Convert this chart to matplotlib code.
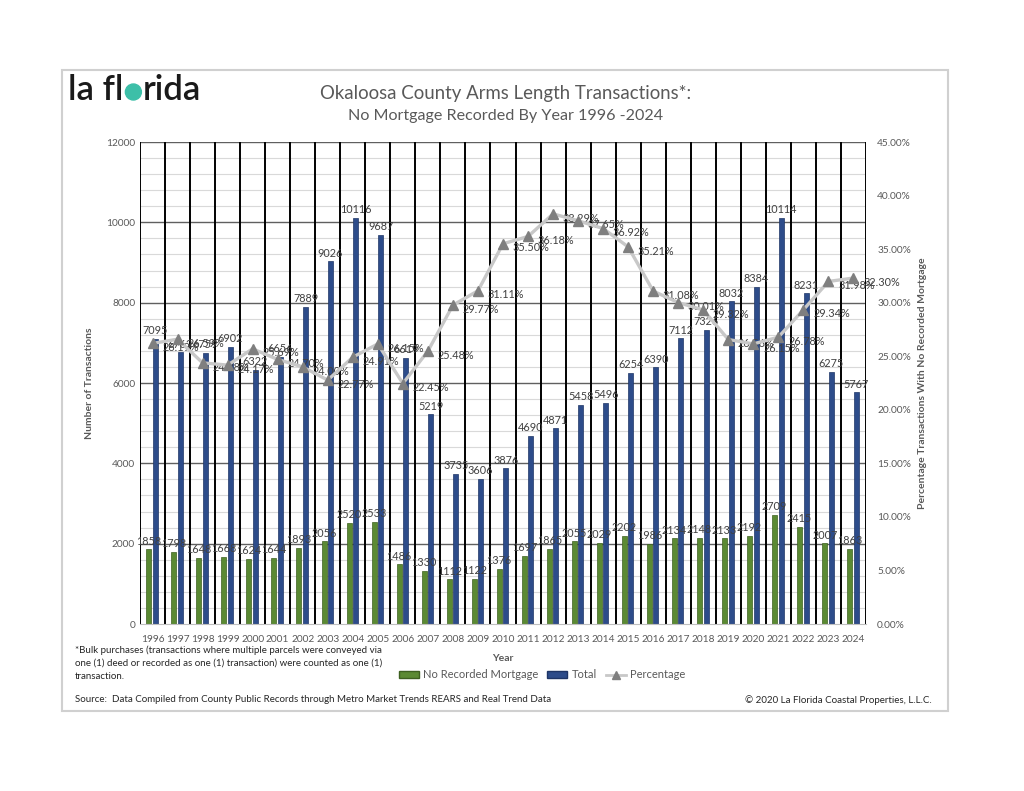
## Okaloosa County arms length transactions, no mortgage recorded

import matplotlib.pyplot as plt
from matplotlib.patches import Patch, Rectangle, Circle
from matplotlib.lines import Line2D
import numpy as np

years = [str(y) for y in range(1996, 2025)]
no_mortgage = [1858, 1798, 1648, 1668, 1624, 1644, 1893, 2056, 2520, 2533,
               1486, 1330, 1112, 1122, 1376, 1697, 1865, 2055, 2029, 2202,
               1986, 2134, 2148, 2133, 2192, 2709, 2415, 2007, 1863]
total = [7095, 6762, 6759, 6902, 6322, 6656, 7889, 9026, 10116, 9687,
         6619, 5219, 3735, 3606, 3876, 4690, 4871, 5458, 5496, 6254,
         6390, 7112, 7326, 8032, 8384, 10114, 8231, 6275, 5767]
pct = [26.19, 26.59, 24.38, 24.17, 25.69, 24.70, 24.00, 22.77, 24.91, 26.15,
       22.45, 25.48, 29.77, 31.11, 35.50, 36.18, 38.29, 37.65, 36.92, 35.21,
       31.08, 30.01, 29.32, 26.56, 26.15, 26.78, 29.34, 31.98, 32.30]

plt.rcParams['font.family'] = ['Lato', 'DejaVu Sans']
grey = '#595959'
lblc = '#404040'
green = '#5b8a33'
blue = '#2d4c8a'

fig = plt.figure(figsize=(10.24, 7.91), dpi=100)
W, H = 1024, 791

def fx(px):
    return px / W

def fy(py):
    return 1 - py / H

# page frame
fig.patches.append(Rectangle((fx(62), fy(711)), fx(948) - fx(62), fy(70) - fy(711),
                             transform=fig.transFigure, fill=False,
                             edgecolor='#d0d0d0', lw=1.5))

ax = fig.add_axes([fx(140), fy(624), fx(866) - fx(140), fy(142) - fy(624)])
ax2 = ax.twinx()

x = np.arange(len(years))
ax.set_xlim(-0.5, len(years) - 0.5)
ax.set_ylim(0, 12000)

# grid
for v in range(400, 12000, 400):
    if v % 2000:
        ax.axhline(v, color='#d9d9d9', lw=0.8, zorder=0)
for v in range(2000, 12001, 2000):
    ax.axhline(v, color='#606060', lw=1.0, zorder=0)
for b in np.arange(-0.5, len(years), 1.0):
    ax.axvline(b, color='black', lw=1.4, zorder=1)

g = ax.bar(x - 0.15, no_mortgage, width=0.2, color=green, edgecolor='#3d6020',
           lw=0.5, zorder=2, label='No Recorded Mortgage')
b = ax.bar(x + 0.11, total, width=0.2, color=blue, edgecolor='#1e3566',
           lw=0.5, zorder=2, label='Total')
ax.bar_label(g, padding=2, fontsize=7.8, color=lblc, zorder=5)
ax.bar_label(b, padding=2, fontsize=7.8, color=lblc, zorder=5)

ax.set_yticks(range(0, 12001, 2000))
ax.set_xticks(x)
ax.set_xticklabels(years)
ax.tick_params(axis='both', length=0, labelsize=7.3, labelcolor=grey)
ax.tick_params(axis='x', pad=8)
for s in ['top', 'right', 'left']:
    ax.spines[s].set_visible(False)
ax.spines['bottom'].set_color('#bfbfbf')
ax.set_ylabel('Number of Transactions', fontsize=7.5, fontweight='bold', color=grey, labelpad=9)
ax.set_xlabel('Year', fontsize=7.5, fontweight='bold', color=grey, labelpad=7)

pv = [p / 100 for p in pct]
ax2.plot(x, pv, color='#c8c8c8', lw=2.4, marker='^', markersize=7.5,
         markerfacecolor='#7f7f7f', markeredgecolor='#7f7f7f', zorder=4)
for xi, p in zip(x, pct):
    ax2.annotate(f'{p:.2f}%', (xi, p / 100), xytext=(7, -3), textcoords='offset points',
                 ha='left', va='center', fontsize=7.8, color=lblc)
ax2.set_ylim(0, 0.45)
ax2.set_yticks(np.arange(0, 0.451, 0.05))
ax2.set_yticklabels([f'{v * 100:.2f}%' for v in np.arange(0, 0.451, 0.05)])
ax2.tick_params(axis='y', length=0, labelsize=7.3, labelcolor=grey, pad=8)
for s in ax2.spines.values():
    s.set_visible(False)
ax2.set_ylabel('Percentage Transactions With No Recorded Mortgage', fontsize=7.5,
               fontweight='bold', color=grey, labelpad=5)

# titles
fig.text(fx(506), fy(93), 'Okaloosa County Arms Length Transactions*:', ha='center',
         va='center', fontsize=13.4, color=grey)
fig.text(fx(506), fy(116), 'No Mortgage Recorded By Year 1996 -2024', ha='center',
         va='center', fontsize=11.6, color=grey)

# logo
t1 = fig.text(fx(68), fy(100), 'la fl', fontsize=25, fontweight='semibold', color='#1a1a1a',
              va='baseline', ha='left')
fig.canvas.draw()
r = fig.canvas.get_renderer()
e1 = t1.get_window_extent(r)
rad = 8
cx = e1.x1 + 2 + rad
fig.patches.append(Circle((cx, fy(100) * H + rad), rad, transform=None,
                          color='#3dbfa8', zorder=5))
fig.text((cx + rad + 1.5) / W, fy(100), 'rida', fontsize=25, fontweight='semibold',
         color='#1a1a1a', va='baseline', ha='left')

# legend
handles = [Patch(facecolor=green, edgecolor='#3d6020', label='No Recorded Mortgage'),
           Patch(facecolor=blue, edgecolor='#1e3566', label='Total'),
           Line2D([0], [0], color='#c8c8c8', lw=2, marker='^', markersize=6,
                  markerfacecolor='#7f7f7f', markeredgecolor='#7f7f7f', label='Percentage')]
fig.legend(handles=handles, loc='center', bbox_to_anchor=(fx(542), fy(675)), ncol=3,
           frameon=False, fontsize=8, labelcolor=grey, handlelength=1.8,
           handleheight=0.5, columnspacing=0.8, handletextpad=0.4)

note_font = ['Liberation Sans Narrow', 'Lato', 'DejaVu Sans']
fig.text(fx(75), fy(645), '*Bulk purchases (transactions where multiple parcels were conveyed via\n'
         'one (1) deed or recorded as one (1) transaction) were counted as one (1)\n'
         'transaction.', ha='left', va='top', fontsize=7, color='#262626',
         family=note_font, linespacing=1.6)
fig.text(fx(75), fy(700), 'Source:  Data Compiled from County Public Records through Metro Market Trends REARS and Real Trend Data',
         ha='left', va='center', fontsize=7, color='#262626', family=note_font)
fig.text(fx(932), fy(700), '\u00a9 2020 La Florida Coastal Properties, L.L.C.',
         ha='right', va='center', fontsize=7, color='#262626', family=note_font)

fig.savefig('out.png', dpi=100, facecolor='white')
